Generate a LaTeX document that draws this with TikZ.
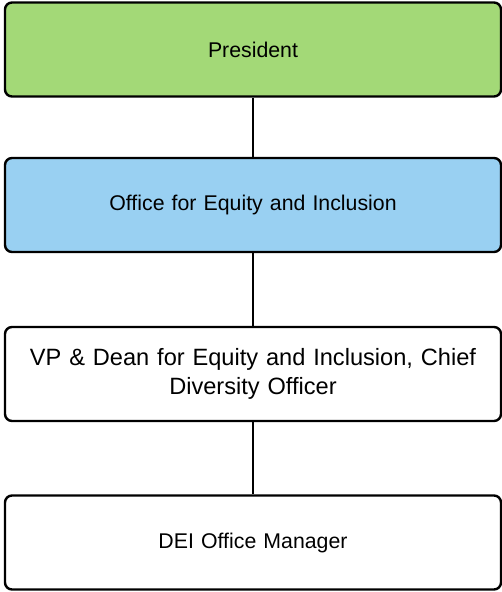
\documentclass[tikz,border=0pt]{standalone}
\usepackage{fontspec}
\setmainfont{Liberation Sans}
\definecolor{presgreen}{HTML}{A3D977}
\definecolor{oeiblue}{HTML}{99D0F2}
\tikzset{
  orgbox/.style={draw=black, line width=2.4pt, rounded corners=7pt, minimum width=496pt, minimum height=94pt, align=center, font=\fontsize{21.3}{29}\selectfont, text width=480pt},
  orgline/.style={line width=2.4pt}
}
\begin{document}
\begin{tikzpicture}[x=1pt, y=-1pt]
				\useasboundingbox (0,0) rectangle (502,592);
				%boxes
				\node (pres) at (253, 49.5) [orgbox, fill=presgreen]{President};
				\node (oei) at (253, 205) [orgbox, fill=oeiblue]{Office for Equity and Inclusion};
				\node (vp) at (253, 374) [orgbox, fill=white, font=\fontsize{23.6}{29}\selectfont]{VP \& Dean for Equity and Inclusion, Chief\\Diversity Officer};
				\node (mgr) at (253, 542.5) [orgbox, fill=white]{DEI Office Manager};
				
				%links
				\draw[orgline] (pres) -- (oei);
				\draw[orgline] (oei) -- (vp);
				\draw[orgline] (vp) -- (mgr);
			\end{tikzpicture}
\end{document}
